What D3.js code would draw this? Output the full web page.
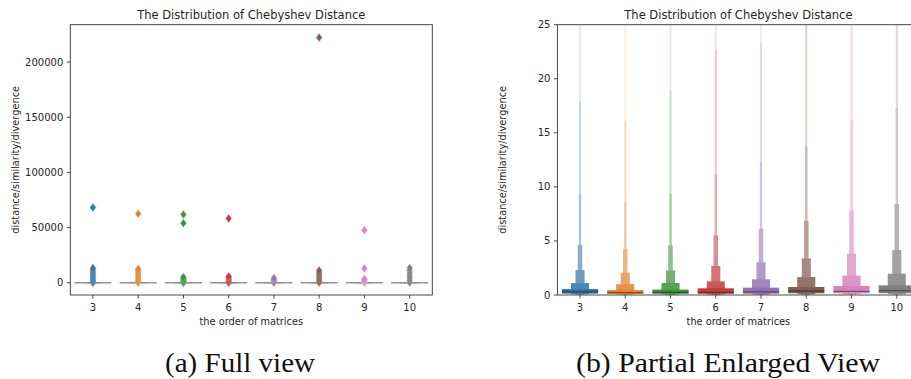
<!DOCTYPE html>
<html>
<head>
<meta charset="utf-8">
<script src="https://cdn.jsdelivr.net/npm/d3@7/dist/d3.min.js"></script>
<style>
  body { margin: 0; background: #fff; }
  svg { display: block; }
  text { font-family: "DejaVu Sans", sans-serif; fill: #262626; }
  .caption { font-family: "Liberation Serif", serif; fill: #111; }
</style>
</head>
<body>
<svg id="chart" width="911" height="379"></svg>
<script>
// order of matrices (x categories)
const categories = ['3', '4', '5', '6', '7', '8', '9', '10'];
// seaborn-desaturated tab10
const colors = ['#3274a1', '#e1812c', '#3a923a', '#c03d3e', '#9372b2', '#845b53', '#d684bd', '#7f7f7f'];

// letter values per category, innermost (IQR) first
const medians = [0.28, 0.22, 0.25, 0.25, 0.28, 0.37, 0.34, 0.40];
const upperValues = [
  [0.55, 1.10, 2.30, 4.62, 9.30, 17.9, 36],
  [0.45, 1.00, 2.07, 4.28, 8.57, 16.1, 33],
  [0.50, 1.11, 2.28, 4.59, 9.34, 18.9, 38],
  [0.62, 1.26, 2.68, 5.52, 11.2, 22.7, 46],
  [0.68, 1.45, 3.02, 6.13, 12.3, 23.3, 48],
  [0.74, 1.66, 3.39, 6.87, 13.7, 27.5, 55],
  [0.83, 1.79, 3.82, 7.83, 16.2, 33.0, 66],
  [0.89, 1.97, 4.16, 8.42, 17.3, 35.0, 70]
];
const lowerValues = [
  [0.13, 0.07, 0.04, 0.02, 0.010, 0.005, 0.002],
  [0.10, 0.06, 0.03, 0.02, 0.010, 0.005, 0.002],
  [0.11, 0.06, 0.03, 0.02, 0.010, 0.005, 0.002],
  [0.11, 0.06, 0.03, 0.02, 0.010, 0.005, 0.002],
  [0.12, 0.06, 0.03, 0.02, 0.010, 0.005, 0.002],
  [0.16, 0.08, 0.04, 0.02, 0.010, 0.005, 0.002],
  [0.15, 0.08, 0.04, 0.02, 0.010, 0.005, 0.002],
  [0.17, 0.09, 0.05, 0.02, 0.010, 0.005, 0.002]
];
// outliers beyond the last letter value
const outliers = [
  [80, 500, 1500, 3000, 4500, 6000, 7500, 9000, 10500, 12000, 13300, 68200],
  [70, 400, 1200, 2500, 4000, 5500, 7000, 8500, 10000, 11500, 12600, 62500],
  [90, 300, 1000, 2000, 3200, 4300, 5100, 54000, 61900],
  [110, 400, 1200, 2500, 3800, 5000, 5700, 58300],
  [120, 300, 1000, 2000, 3000, 4200],
  [130, 600, 1800, 3200, 4800, 6400, 8000, 9600, 11200, 222200],
  [150, 400, 1500, 2500, 3300, 13000, 47700],
  [160, 2200, 4400, 6600, 8800, 11000, 13300]
];

const fullTicks = [0, 50000, 100000, 150000, 200000];
const zoomTicks = [0, 5, 10, 15, 20, 25];

const titleText = 'The Distribution of Chebyshev Distance';
const xLabel = 'the order of matrices';
const yLabel = 'distance/similarity/divergence';

const svg = d3.select('#chart');
svg.append('rect').attr('width', 911).attr('height', 379).attr('fill', '#fff');

const axW = 362, axTop = 24.7, axBottom = 295;

function drawPanel(x0, yDomain, ticks, full, id) {
  const x = d3.scaleBand().domain(categories).range([x0, x0 + axW]);
  const y = d3.scaleLinear().domain(yDomain).range([axBottom, axTop]);
  const g = svg.append('g');

  g.append('clipPath').attr('id', id)
    .append('rect')
    .attr('x', x0).attr('y', axTop)
    .attr('width', axW).attr('height', axBottom - axTop);

  const plot = g.append('g').attr('clip-path', `url(#${id})`);
  const boxW = x.bandwidth() * 0.8;

  categories.forEach((c, i) => {
    const cx = x(c) + x.bandwidth() / 2;
    const k = upperValues[i].length;
    const cg = plot.append('g');

    // narrow outer boxes first, widest (IQR) last so it sits on top
    const levels = d3.range(k).reverse();
    cg.selectAll('rect')
      .data(levels)
      .join('rect')
      .attr('x', j => cx - Math.max(boxW * Math.pow(0.5, j), 1.8) / 2)
      .attr('width', j => Math.max(boxW * Math.pow(0.5, j), 1.8))
      .attr('y', j => y(upperValues[i][j]))
      .attr('height', j => Math.max(y(lowerValues[i][j]) - y(upperValues[i][j]), 0.001))
      .attr('fill', j => d3.interpolateRgb(colors[i], '#ffffff')(0.85 * j / (k - 1)))
      .attr('stroke', full ? '#8c8c8c' : 'none')
      .attr('stroke-width', full ? 1 : 0);

    // median
    cg.append('line')
      .attr('x1', cx - boxW / 2).attr('x2', cx + boxW / 2)
      .attr('y1', y(medians[i])).attr('y2', y(medians[i]))
      .attr('stroke', full ? '#8c8c8c' : 'rgba(38,38,38,0.55)')
      .attr('stroke-width', full ? 1.2 : 1.3);

    // outliers as thin diamonds
    cg.selectAll('path.out')
      .data(outliers[i])
      .join('path')
      .attr('class', 'out')
      .attr('d', 'M0,-4L2.9,0L0,4L-2.9,0Z')
      .attr('transform', d => `translate(${cx},${y(d)})`)
      .attr('fill', colors[i])
      .attr('stroke', d3.interpolateRgb(colors[i], '#fff')(0.35))
      .attr('stroke-width', 0.5);
  });

  // spines
  g.append('rect')
    .attr('x', x0).attr('y', axTop)
    .attr('width', axW).attr('height', axBottom - axTop)
    .attr('fill', 'none').attr('stroke', '#333').attr('stroke-width', 0.9);

  // y ticks
  const yt = g.append('g');
  yt.selectAll('line').data(ticks).join('line')
    .attr('x1', x0 - 3.5).attr('x2', x0)
    .attr('y1', d => y(d)).attr('y2', d => y(d))
    .attr('stroke', '#333').attr('stroke-width', 0.9);
  yt.selectAll('text').data(ticks).join('text')
    .attr('x', x0 - 7).attr('y', d => y(d)).attr('dy', '0.35em')
    .attr('text-anchor', 'end').attr('font-size', 10)
    .text(d => d);

  // x ticks
  const xt = g.append('g');
  xt.selectAll('line').data(categories).join('line')
    .attr('x1', d => x(d) + x.bandwidth() / 2).attr('x2', d => x(d) + x.bandwidth() / 2)
    .attr('y1', axBottom).attr('y2', axBottom + 3.5)
    .attr('stroke', '#333').attr('stroke-width', 0.9);
  xt.selectAll('text').data(categories).join('text')
    .attr('x', d => x(d) + x.bandwidth() / 2).attr('y', 310.5)
    .attr('text-anchor', 'middle').attr('font-size', 10)
    .text(d => d);

  // labels
  g.append('text')
    .attr('x', x0 + axW / 2).attr('y', 19)
    .attr('text-anchor', 'middle').attr('font-size', 11.5)
    .text(titleText);
  g.append('text')
    .attr('x', x0 + axW / 2).attr('y', 324.5)
    .attr('text-anchor', 'middle').attr('font-size', 9.8)
    .text(xLabel);
  g.append('text')
    .attr('transform', `translate(${x0 - 51.8},${(axTop + axBottom) / 2}) rotate(-90)`)
    .attr('text-anchor', 'middle').attr('font-size', 9.8)
    .text(yLabel);
}

drawPanel(70.3, [-11100, 233900], fullTicks, true, 'clipFull');
drawPanel(557.4, [0, 25], zoomTicks, false, 'clipZoom');

// sub-figure captions
svg.append('text').attr('class', 'caption')
  .attr('x', 240).attr('y', 372).attr('text-anchor', 'middle')
  .attr('font-size', 27).attr('textLength', 150).attr('lengthAdjust', 'spacingAndGlyphs')
  .text('(a) Full view');
svg.append('text').attr('class', 'caption')
  .attr('x', 728).attr('y', 372).attr('text-anchor', 'middle')
  .attr('font-size', 27).attr('textLength', 304).attr('lengthAdjust', 'spacingAndGlyphs')
  .text('(b) Partial Enlarged View');
</script>
</body>
</html>
